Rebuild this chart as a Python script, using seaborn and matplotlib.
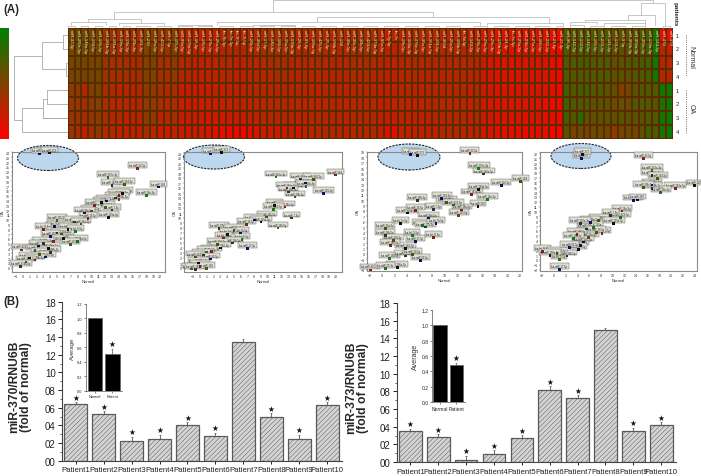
import matplotlib
matplotlib.use('Agg')
import matplotlib.pyplot as plt
from matplotlib.colors import LinearSegmentedColormap
from matplotlib.patches import Ellipse
import pandas as pd
import seaborn as sns

W, H = 701, 477

# heatmap labels, left to right
mir_labels = ['miR-32-5p', 'miR-200c-3p', 'miR-146a-5p', 'miR-194-5p', 'miR-126-3p', 'miR-181b-5p', 'miR-181a-5p',
              'miR-19a-3p', 'miR-19b-3p', 'miR-20b-3p', 'miR-101-3p', 'miR-210', 'miR-18a-5p', 'miR-423-5p',
              'miR-7-5p', 'miR-155-5p', 'miR-99a-5p', 'miR-125a-5p', 'miR-16-5p', 'miR-195-5p', 'miR-27b-3p',
              'miR-26a-5p', 'let-7b-5p', 'let-7e-5p', 'let-7f-5p', 'let-7i-5p', 'miR-26b-5p', 'miR-30d-5p',
              'miR-17-5p', 'miR-140-3p', 'miR-186-5p', 'miR-15a-5p', 'miR-130a-3p', 'miR-28-5p', 'miR-93-5p',
              'miR-106a-5p', 'miR-425-5p', 'miR-25-3p', 'miR-196b-5p', 'miR-128', 'miR-30e-5p',
              'miR-30c-5p', 'miR-30b-5p', 'miR-424-5p', 'miR-374a-5p', 'miR-92a-3p', 'let-7g-5p', 'let-7c',
              'miR-15b-5p', 'miR-103a-3p', 'miR-376c-3p', 'miR-30a-5p', 'miR-151a-5p', 'miR-191-5p', 'miR-302d',
              'miR-20a-5p', 'miR-106b-5p', 'let-7d-5p', 'miR-143-3p', 'miR-29b-3p', 'miR-29a-3p', 'miR-29c-3p',
              'miR-125b-5p', 'miR-24-3p', 'let-7a-5p', 'miR-23a-3p', 'miR-23b-3p', 'miR-27a-3p', 'miR-100-5p',
              'miR-222-3p', 'miR-21-5p', 'miR-22-3p', 'miR-96-5p', 'miR-142-3p', 'miR-122-5p', 'miR-142-5p',
              'miR-150-5p', 'miR-223-3p', 'miR-141-3p', 'miR-124-3p', 'miR-9-5p', 'miR-302b-3p', 'miR-302a-3p',
              'miR-302c-3p', 'miR-133a-3p', 'miR-144-3p', 'miR-370', 'miR-373']
row_numbers = ['1', '2', '3', '4', '1', '2', '3', '4']

# expression level per row, 0 = green, 20 = red
row_n1 = [9, 8, 8, 9, 9, 12, 12, 13, 13, 13, 13, 10, 10, 12, 12, 10,
          14, 14, 14, 15, 15, 15, 13, 13, 14, 14, 14, 14, 13, 13, 13, 13, 13, 14, 14, 14, 13, 14, 14, 13, 14,
          13, 13, 13, 13, 14, 15, 15, 14, 14, 13, 14, 14, 14, 14, 14, 14, 14, 15, 15,
          16, 16, 17, 17, 17, 17, 17, 17, 17, 17, 18, 19,
          6, 6, 6, 5, 6, 6, 6, 7, 7, 7, 6, 6, 5, 1, 17, 18]
row_n2 = [9, 8, 8, 9, 9, 12, 12, 13, 13, 13, 13, 10, 10, 12, 12, 10,
          14, 14, 15, 15, 15, 15, 14, 14, 14, 14, 14, 14, 13, 13, 13, 13, 13, 14, 14, 14, 13, 14, 14, 14, 14,
          13, 13, 13, 13, 14, 15, 15, 14, 14, 13, 14, 14, 14, 14, 14, 14, 14, 14, 14,
          16, 16, 17, 17, 17, 17, 17, 17, 17, 17, 18, 19,
          6, 6, 5, 5, 6, 6, 6, 7, 7, 7, 6, 6, 5, 1, 14, 15]
row_n3 = [9, 8, 9, 9, 9, 12, 13, 13, 13, 14, 13, 10, 10, 13, 13, 11,
          14, 14, 15, 15, 15, 15, 14, 14, 15, 15, 14, 14, 14, 13, 13, 13, 14, 14, 14, 14, 13, 14, 14, 14, 14,
          13, 14, 13, 14, 14, 15, 15, 14, 14, 14, 14, 14, 14, 14, 14, 14, 14, 14, 14,
          16, 17, 17, 17, 17, 17, 17, 17, 17, 17, 18, 19,
          6, 6, 5, 5, 6, 6, 6, 7, 7, 6, 6, 5, 5, 1, 14, 14]
row_n4 = [9, 9, 9, 9, 9, 12, 13, 13, 13, 14, 13, 10, 10, 13, 13, 11,
          14, 14, 15, 15, 15, 15, 14, 14, 15, 15, 14, 14, 14, 14, 13, 13, 14, 14, 14, 14, 14, 14, 14, 14, 14,
          13, 14, 13, 14, 14, 15, 15, 14, 14, 14, 14, 14, 14, 14, 14, 14, 14, 14, 14,
          16, 17, 17, 17, 17, 17, 17, 17, 17, 17, 18, 19,
          6, 6, 6, 6, 6, 6, 6, 7, 7, 7, 6, 6, 5, 1, 14, 14]
row_o1 = [11, 11, 14, 10, 9, 13, 13, 15, 14, 15, 14, 11, 11, 13, 14, 13,
          16, 16, 16, 16, 16, 15, 15, 15, 15, 15, 14, 14, 14, 14, 14, 14, 14, 14, 15, 14, 15, 14, 14, 14, 15,
          14, 14, 14, 14, 15, 15, 15, 14, 14, 15, 15, 14, 14, 14, 14, 14, 14, 15, 13,
          16, 17, 17, 17, 17, 17, 17, 17, 17, 17, 18, 19,
          5, 6, 5, 5, 6, 6, 7, 7, 10, 9, 7, 6, 6, 6, 1, 1]
row_o2 = [12, 12, 13, 11, 10, 13, 14, 14, 14, 15, 14, 11, 11, 13, 14, 13,
          16, 16, 16, 16, 16, 16, 15, 15, 15, 15, 15, 14, 14, 14, 14, 14, 14, 14, 15, 14, 15, 14, 14, 14, 15,
          14, 14, 14, 14, 15, 15, 15, 14, 15, 15, 15, 14, 14, 14, 14, 14, 14, 15, 13,
          16, 17, 17, 17, 17, 17, 17, 17, 17, 18, 18, 19,
          5, 6, 6, 6, 7, 7, 7, 8, 8, 8, 6, 6, 6, 7, 2, 1]
row_o3 = [12, 12, 13, 12, 11, 13, 14, 14, 15, 15, 14, 11, 11, 15, 14, 13,
          16, 16, 16, 16, 17, 16, 16, 16, 16, 16, 15, 15, 14, 14, 14, 14, 14, 15, 15, 14, 14, 14, 14, 14, 15,
          14, 14, 14, 14, 15, 15, 16, 14, 15, 15, 15, 15, 14, 14, 14, 14, 14, 15, 13,
          16, 17, 17, 17, 17, 17, 18, 17, 17, 18, 18, 19,
          5, 6, 3, 7, 7, 7, 7, 7, 7, 7, 7, 7, 6, 6, 1, 1]
row_o4 = [12, 13, 16, 13, 11, 14, 14, 15, 15, 15, 15, 13, 14, 16, 16, 15,
          16, 16, 16, 16, 17, 18, 18, 19, 19, 20, 18, 17, 16, 16, 16, 16, 15, 17, 15, 14, 14, 14, 14, 14, 15,
          14, 14, 14, 14, 15, 17, 18, 15, 15, 15, 15, 15, 15, 14, 14, 14, 14, 15, 14,
          16, 17, 17, 18, 18, 18, 19, 18, 18, 18, 20, 20,
          7, 9, 8, 9, 8, 8, 9, 11, 9, 8, 9, 7, 5, 6, 2, 1]

# column tree: left pos, right pos, left height, right height, top height
col_tree = [(29.8, 85.1, 16, 25, 28), (83.3, 86.8, 13, 2, 25), (6.8, 53.1, 9, 11, 16),
            (2.9, 10.7, 6, 5, 9), (36.2, 70.0, 5.5, 5, 11), (21.7, 60.0, 3, 3, 5.5), (61.0, 72.0, 3, 3, 5),
            (81.4, 85.4, 8, 3, 13), (75.2, 84.0, 6, 5, 8), (73.0, 77.0, 4, 4, 6), (78.0, 84.0, 3, 3, 5),
            (0.5, 5.5, 3, 3, 6), (7.5, 14.0, 3, 3, 5), (16.0, 21.0, 2, 2, 3), (27.0, 33.0, 2, 2, 3),
            (0, 1, 0.5, 0.5, 2), (2, 3, 0.5, 0.5, 2), (4, 5, 0.5, 0.5, 1.5), (6, 7, 0.5, 0.5, 2), (8, 9, 0.5, 0.5, 2), (10, 12, 0.5, 0.5, 2),
            (13, 15, 0.5, 0.5, 2), (16, 18, 0.5, 0.5, 1.5), (19, 21, 0.5, 0.5, 2), (22, 24, 0.5, 0.5, 2), (25, 27, 0.5, 0.5, 1.5),
            (28, 30, 0.5, 0.5, 2), (31, 33, 0.5, 0.5, 2), (34, 36, 0.5, 0.5, 1.5), (37, 39, 0.5, 0.5, 2), (40, 42, 0.5, 0.5, 2),
            (43, 45, 0.5, 0.5, 1.5), (46, 48, 0.5, 0.5, 2), (49, 51, 0.5, 0.5, 2), (52, 54, 0.5, 0.5, 1.5), (55, 57, 0.5, 0.5, 2),
            (59, 61, 0.5, 0.5, 2), (62, 64, 0.5, 0.5, 2), (65, 67, 0.5, 0.5, 2), (68, 70, 0.5, 0.5, 1.5), (71, 72, 0.5, 0.5, 2),
            (73, 75, 0.5, 0.5, 2.5), (76, 78, 0.5, 0.5, 2), (79, 81, 0.5, 0.5, 2), (82, 84, 0.5, 0.5, 2), (86.5, 87.5, 0, 0, 2)]
# row tree: top pos, bottom pos, top dist, bottom dist, joined dist
row_tree = [(2.0, 6.67, 25.7, 45.7, 53.7), (1.0, 3.0, 4.7, 1.5, 25.7), (0.5, 1.5, 0, 0, 4.7), (2.5, 3.5, 0, 0, 1.5),
            (5.8, 7.5, 24.7, 0, 45.7), (5.15, 6.5, 20.7, 0, 24.7), (4.5, 5.5, 0, 0, 20.7)]

# scatter panels: first two points of each are miR-370 and miR-373
p1_normal = [2.4, 3.9, 16.7, 12.4, 13.0, 14.8, 19.8, 14.5, 14.0, 18.0, 13.5, 14.0, 12.2, 11.5, 10.5, 12.0, 13.0, 10.0,
             9.0, 12.5, 9.5, 5.0, 7.5, 8.5, 4.6, 6.6, 3.0, 7.7, 5.0, 5.6, 4.0, 6.0, 4.5, 8.0, 3.0, 7.0, 2.3, 3.8,
             -0.2, 1.8, 4.0, 2.5, 3.3, 1.0, 1.8, 0.5, -0.3]
p1_oa = [23.7, 23.9, 20.6, 18.8, 17.2, 17.3, 16.8, 15.5, 15.0, 15.0, 14.5, 14.2, 13.9, 13.5, 13.0, 12.5, 12.0, 11.8,
         11.4, 10.5, 10.2, 9.8, 9.5, 9.1, 8.5, 8.0, 8.0, 7.5, 7.2, 7.0, 6.5, 6.0, 5.5, 5.5, 5.0, 4.8, 4.5, 4.0,
         3.7, 3.5, 3.2, 2.8, 2.2, 2.0, 1.6, 1.2, 0.2]
p2_normal = [1.5, 3.2, 19.9, 11.2, 14.8, 16.7, 15.5, 13.8, 12.8, 15.6, 13.0, 14.0, 18.2, 11.0, 12.5, 10.8, 13.5, 9.8,
             8.0, 9.0, 6.8, 11.5, 2.8, 5.0, 6.0, 4.0, 3.5, 6.2, 4.8, 2.6, 7.0, 3.0, 1.7, 1.0, 0.5, -0.6, 1.5, -0.2,
             0.0, -1.2, -0.6, 1.0]
p2_oa = [22.8, 23.1, 18.6, 18.2, 17.8, 17.7, 17.0, 16.0, 16.0, 16.3, 15.2, 14.2, 14.9, 12.5, 12.2, 11.7, 10.0, 10.2,
         9.6, 9.2, 8.7, 8.0, 7.9, 7.5, 7.0, 6.7, 6.0, 5.7, 5.0, 4.7, 3.9, 4.0, 3.3, 3.2, 2.6, 2.2, 1.8, 1.0,
         0.3, -0.2, -0.3, -0.1]
p3_normal = [4.5, 5.7, 14.0, 15.4, 16.2, 22.0, 19.0, 15.4, 14.3, 16.8, 5.6, 10.3, 9.5, 15.3, 12.7, 11.4, 8.2, 12.2,
             7.4, 4.0, 5.3, 6.4, 6.9, 0.5, 8.6, 2.9, 8.2, 4.8, 0.5, 1.8, 5.3, 3.7, 1.3, 1.2, 3.7, 4.9, 6.1, 2.4,
             -1.9, 0.5]
p3_oa = [18.6, 18.3, 18.7, 15.9, 14.9, 13.5, 12.8, 12.0, 11.0, 10.1, 9.9, 9.6, 10.3, 8.8, 8.2, 9.1, 8.3, 7.2,
         6.7, 7.6, 8.1, 5.3, 5.0, 4.8, 5.6, 5.6, 3.0, 3.4, 3.4, 2.5, 2.3, 1.0, 1.5, -0.9, -0.4, -0.1, -1.3, -2.5,
         -3.0, -2.7]
p4_normal = [4.7, 4.9, 15.3, 16.7, 16.7, 17.7, 16.7, 24.0, 20.7, 18.2, 16.7, 15.3, 13.5, 14.2, 11.6, 11.3, 9.6, 7.6,
             6.2, 10.2, 8.2, 6.7, 5.6, 5.9, 4.5, 4.2, -2.0, 0.9, 2.2, 0.5, 0.9, 5.0, 3.9, 3.3, 4.5, 7.3, 2.7, -0.7]
p4_oa = [21.0, 21.8, 21.0, 18.5, 17.4, 16.9, 15.5, 15.3, 14.7, 14.0, 14.8, 15.0, 12.2, 12.4, 10.1, 8.7, 9.2, 8.2,
         7.8, 7.5, 5.5, 6.7, 6.4, 4.6, 2.9, 2.2, 1.8, 0.1, 0.8, 1.3, -2.0, 3.7, 5.3, 4.4, 7.5, 5.6, 2.6, 0.9]
# the rest of the box names are too small to read, so they follow the heatmap order
panel_names = ['hsa-miR-370', 'hsa-miR-373'] + ['hsa-' + m for m in mir_labels[:45]]
point_colors = ['#101060', '#101010', '#802020', '#207020', '#303030', '#505010']

# bar panels
patients = ['Patient1', 'Patient2', 'Patient3', 'Patient4', 'Patient5', 'Patient6', 'Patient7', 'Patient8', 'Patient9', 'Patient10']
y_ticks = [0, 2, 4, 6, 8, 10, 12, 14, 16, 18]
y_tick_labels = ['00', '02', '04', '06', '08', '10', '12', '14', '16', '18']
mir370 = [6.38, 5.25, 2.2, 2.5, 4.04, 2.75, 13.45, 5.0, 2.5, 6.26]
mir370_err = [0.23, 0.35, 0.5, 0.45, 0.3, 0.4, 0.3, 0.35, 0.45, 0.35]
mir370_star = [1, 1, 1, 1, 1, 1, 0, 1, 1, 1]
mir373 = [3.5, 2.83, 0.2, 0.9, 2.7, 8.2, 7.3, 15.0, 3.5, 4.2]
mir373_err = [0.25, 0.3, 0.5, 0.45, 0.35, 0.4, 0.25, 0.2, 0.4, 0.3]
mir373_star = [1, 1, 1, 1, 1, 1, 1, 0, 1, 1]
inset_groups = ['Normal', 'Patient']
inset370 = [1.0, 0.51]
inset370_err = [0.0, 0.07]
inset373 = [1.0, 0.48]
inset373_err = [0.0, 0.03]
inset_ticks = [0.0, 0.2, 0.4, 0.6, 0.8, 1.0, 1.2]

sns.set_theme(style='white')
plt.rcParams['font.family'] = ['Liberation Sans', 'DejaVu Sans']
plt.rcParams['hatch.linewidth'] = 0.35

fig = plt.figure(figsize=(W / 100, H / 100), dpi=100)


# axes from pixel box
def px_axes(left, top, right, bottom):
    return fig.add_axes([left / W, 1 - bottom / H, (right - left) / W, (bottom - top) / H])


def fig_text(x, y, s, **kw):
    fig.text(x / W, 1 - y / H, s, **kw)


# --- panel A heatmap ---
heat = pd.DataFrame([row_n1, row_n2, row_n3, row_n4, row_o1, row_o2, row_o3, row_o4], columns=mir_labels)
green_red = LinearSegmentedColormap.from_list('green_red', ['#008000', '#ff0000'])
ax_heat = px_axes(67.7, 29, 673, 139.5)
ax_cbar = px_axes(0, 29, 9, 139.5)
sns.heatmap(heat, ax=ax_heat, cmap=green_red, vmin=0, vmax=20, linewidths=0.12, linecolor='#5a2a00',
            xticklabels=False, yticklabels=False, cbar_ax=ax_cbar)
ax_cbar.invert_yaxis()
ax_cbar.tick_params(length=0, labelleft=False, labelright=False)
for i, lab in enumerate(mir_labels):
    ax_heat.text(i + 0.5, 0.08, lab, rotation=270, ha='center', va='top', fontsize=3.1, color='#f4e4c8')

for i, num in enumerate(row_numbers):
    fig_text(677.5, 36 + i * 13.8, num, fontsize=4, ha='center', va='center', color='#222222')
fig_text(675, 14, 'patients', rotation=270, fontsize=4.6, fontweight='bold', ha='center', va='center')
fig_text(691, 57, 'Normal', rotation=270, fontsize=5, ha='center', va='center', color='#333333')
fig_text(691, 109, 'OA', rotation=270, fontsize=5, ha='center', va='center', color='#333333')
fig.add_artist(plt.Line2D([686 / W, 686 / W], [1 - 36 / H, 1 - 77 / H], color='#444444', lw=0.6, ls=':'))
fig.add_artist(plt.Line2D([686 / W, 686 / W], [1 - 91 / H, 1 - 134 / H], color='#444444', lw=0.6, ls=':'))

# dendrograms
ax_top = px_axes(67.7, 0, 673, 28.5)
ax_top.set_xlim(0, 88)
ax_top.set_ylim(0, 28.5)
ax_top.axis('off')
for a, b, ha_, hb, top in col_tree:
    ax_top.plot([a, a, b, b], [ha_, top, top, hb], color='#b0b0b0', lw=0.5, clip_on=False)
ax_left = px_axes(13, 29, 67.7, 139.5)
ax_left.set_xlim(54.7, 0)
ax_left.set_ylim(8, 0)
ax_left.axis('off')
for a, b, da, db, top in row_tree:
    ax_left.plot([da, top, top, db], [a, a, b, b], color='#a8a8a8', lw=0.6)
ax_left.plot([0, 24.7], [6.5, 6.5], color='#a8a8a8', lw=0.6)

fig_text(3, 10, '(A)', fontsize=8.3, fontweight='bold', ha='left', va='center')
fig_text(3, 302, '(B)', fontsize=8.3, fontweight='bold', ha='left', va='center')


# --- scatter panels ---
def scatter_panel(box, normal, oa, xlim, ylim, xt, yt, oval, far_name=None):
    ax = px_axes(*box)
    fig.patches.append(Ellipse((oval[0] / W, 1 - oval[1] / H), oval[2] / W, oval[3] / H, transform=fig.transFigure,
                               facecolor='#bcd7ee', edgecolor='#222222', lw=0.8, ls=(0, (2, 1)), zorder=0))
    ax.patch.set_alpha(0)
    ax.set_zorder(2)
    names = panel_names[:len(normal)]
    far = normal.index(max(normal))
    if far_name:
        names[far] = far_name
    cols = [point_colors[i % len(point_colors)] for i in range(len(normal))]
    sns.scatterplot(x=normal, y=oa, ax=ax, marker='s', s=4, c=cols, linewidth=0, zorder=4, clip_on=False)
    for x, y, n in zip(normal, oa, names):
        ax.text(x, y + (ylim[1] - ylim[0]) * 0.012, n, fontsize=1.9, ha='center', va='bottom', color='#222222', zorder=3,
                bbox=dict(boxstyle='square,pad=0.35', facecolor='#dedfd2', edgecolor='#333333', lw=0.25))
    ax.set_xlim(xlim)
    ax.set_ylim(ylim)
    ax.set_xticks(xt)
    ax.set_yticks(yt)
    ax.tick_params(labelsize=2.6, length=1, width=0.3, pad=0.6, colors='#333333', bottom=True, left=True)
    ax.set_xlabel('Normal', fontsize=3, labelpad=0.8, color='#333333')
    ax.set_ylabel('OA', fontsize=3, labelpad=0.8, color='#333333')
    for s in ax.spines.values():
        s.set_color('#8a8a8a')
        s.set_linewidth(0.8)


scatter_panel((12.3, 153, 165, 272.5), p1_normal, p1_oa, (-1.5, 20.7), (-0.8, 24.1),
              list(range(-1, 21)), list(range(0, 25)), (48, 159, 61, 25), 'hsa-miR-144')
scatter_panel((184.3, 153, 342, 272.5), p2_normal, p2_oa, (-2.3, 20.9), (-0.7, 23.2),
              list(range(-1, 21)), list(range(0, 24)), (214, 158, 61, 24), 'hsa-miR-144')
scatter_panel((367, 153, 522, 272), p3_normal, p3_oa, (-2.4, 22.3), (-3.2, 19.0),
              list(range(-2, 23, 2)), list(range(-3, 20)), (409, 158, 62, 26), 'hsa-miR-144')
scatter_panel((540, 153, 697, 272), p4_normal, p4_oa, (-2.4, 24.4), (-2.3, 22.3),
              list(range(-2, 25, 2)), list(range(-2, 23)), (581, 157, 60, 25), 'hsa-miR-122')


# --- panel B bars ---
def bar_panel(box, values, errs, stars, ylabel, label_x, inset_box, inset_vals, inset_errs, ins_size):
    ax = px_axes(*box)
    df = pd.DataFrame({'patient': patients, 'value': values})
    sns.barplot(data=df, x='patient', y='value', ax=ax, color='#d4d4d4', width=0.81, saturation=1,
                edgecolor='#5a5a5a', linewidth=0.9)
    for bar in ax.patches:
        bar.set_hatch('///////')
    ax.errorbar(range(10), values, yerr=[[0] * 10, errs], fmt='none', ecolor='#555555', elinewidth=0.6, capsize=1, capthick=0.5)
    for i, (v, e, s) in enumerate(zip(values, errs, stars)):
        if s:
            ax.text(i, v + e + 0.05, '★', fontsize=5.5, ha='center', va='bottom', color='#111111', family='DejaVu Sans')
    ax.set_xlim(-0.49, 9.53)
    ax.set_ylim(0, 18)
    ax.set_yticks(y_ticks)
    ax.set_yticklabels(y_tick_labels)
    ax.set_yticks(range(1, 18, 2), minor=True)
    ax.tick_params(axis='y', which='major', labelsize=7, length=3, width=0.7, pad=1.5, left=True, colors='#222222')
    ax.tick_params(axis='y', which='minor', length=1.5, width=0.5, left=True, colors='#222222')
    ax.tick_params(axis='x', labelsize=5.6, length=2, width=0.7, pad=2, bottom=True, colors='#222222')
    for lab in ax.get_xticklabels() + ax.get_yticklabels():
        lab.set_family(['Liberation Sans Narrow', 'Liberation Sans'])
    ax.set_xlabel('')
    ax.set_ylabel(ylabel, fontsize=8.7, fontweight='bold', linespacing=1.0)
    ax.yaxis.set_label_coords(label_x, 0.47)
    sns.despine(ax=ax)
    for s in ('left', 'bottom'):
        ax.spines[s].set_color('#444444')
        ax.spines[s].set_linewidth(0.8)

    ins = px_axes(*inset_box)
    sns.barplot(x=inset_groups, y=inset_vals, ax=ins, color='black', width=0.82, saturation=1, edgecolor='#666666', linewidth=0.6)
    ins.errorbar([0, 1], inset_vals, yerr=[[0, 0], inset_errs], fmt='none', ecolor='#555555', elinewidth=0.5, capsize=0.8, capthick=0.4)
    ins.text(1, inset_vals[1] + inset_errs[1] + 0.01, '★', fontsize=5.5, ha='center', va='bottom', color='#111111', family='DejaVu Sans')
    ins.set_ylim(0, 1.2)
    ins.set_xlim(-0.5, 1.55)
    ins.set_yticks(inset_ticks)
    ins.set_yticklabels([f'{t:.1f}' for t in inset_ticks])
    ins.tick_params(axis='y', labelsize=ins_size, length=1.5, width=0.4, pad=1, left=True, colors='#222222')
    ins.tick_params(axis='x', labelsize=ins_size, length=1.5, width=0.4, pad=1, bottom=True, colors='#222222')
    ins.set_ylabel('Average', fontsize=ins_size + 1.5, labelpad=1.5, color='#333333')
    ins.patch.set_alpha(0)
    sns.despine(ax=ins)
    for s in ('left', 'bottom'):
        ins.spines[s].set_color('#555555')
        ins.spines[s].set_linewidth(0.5)


bar_panel((62, 302.7, 342, 461.7), mir370, mir370_err, mir370_star, 'miR-370/RNU6B\n(fold of normal)', -0.107,
          (86, 305, 122, 391.7), inset370, inset370_err, 2.8)
bar_panel((396.7, 304, 676, 463), mir373, mir373_err, mir373_star, 'miR-373/RNU6B\n(fold of normal)', -0.1,
          (432, 310.7, 465, 403.3), inset373, inset373_err, 3.6)

fig.savefig('out.png', dpi=100, facecolor='white')
